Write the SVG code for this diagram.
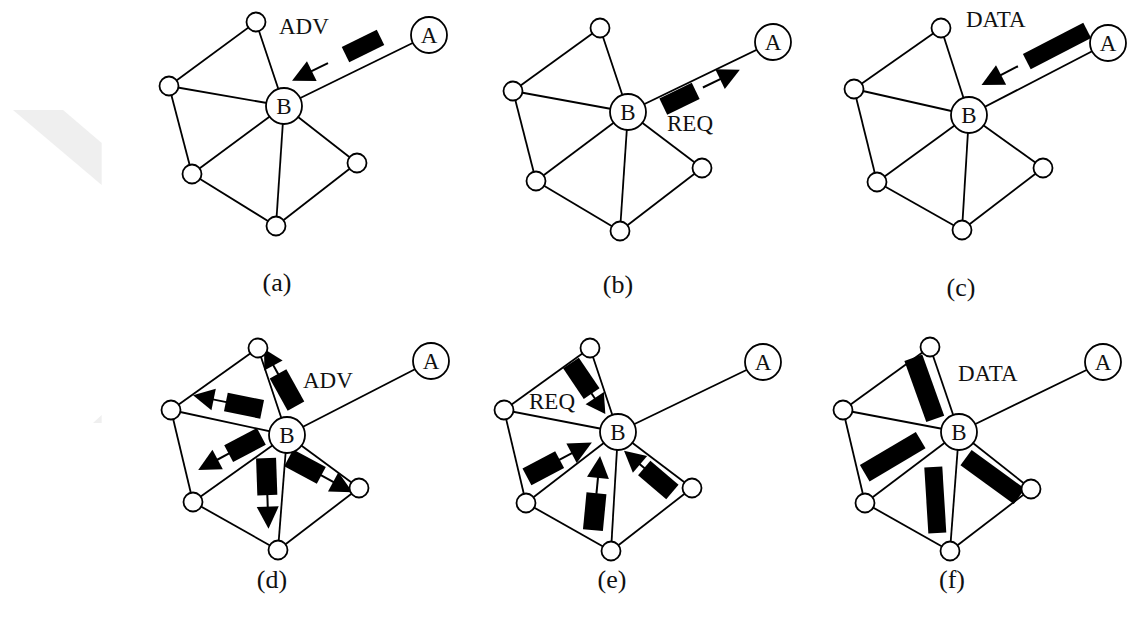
<svg xmlns="http://www.w3.org/2000/svg" width="1132" height="621" viewBox="0 0 1132 621">
<style>
.e{stroke:#000;stroke-width:1.8;fill:none}
.n{fill:#fff;stroke:#000;stroke-width:1.8}
.t{font-family:"Liberation Serif","Times New Roman",serif;font-size:23px;fill:#111}
.lb{font-family:"Liberation Serif","Times New Roman",serif;font-size:26px;fill:#111;text-anchor:middle}
.nt{font-family:"Liberation Serif","Times New Roman",serif;font-size:23px;fill:#111;text-anchor:middle}
.pk{fill:#000}
.sh{stroke:#000;stroke-width:2}
</style>
<rect width="1132" height="621" fill="#fff"/>
<g id="watermark" fill="#efefef">
<polygon points="13,110 63,110 101.7,143 101.7,185"/>
<polygon points="93,423 101.7,415 101.7,423"/>
</g>

<!-- Panel a -->
<g id="panel-a">
<g id="a-edges" class="e">
<line x1="256" y1="22" x2="169" y2="86"/>
<line x1="256" y1="22" x2="284" y2="106"/>
<line x1="169" y1="86" x2="284" y2="106"/>
<line x1="169" y1="86" x2="192" y2="174"/>
<line x1="284" y1="106" x2="192" y2="174"/>
<line x1="284" y1="106" x2="276" y2="226"/>
<line x1="284" y1="106" x2="357" y2="163"/>
<line x1="192" y1="174" x2="276" y2="226"/>
<line x1="276" y1="226" x2="357" y2="163"/>
<line x1="284" y1="106" x2="429" y2="35"/>
</g>
<g id="a-packet" transform="translate(363,46) rotate(153.9)">
<rect class="pk" x="-19.5" y="-8.5" width="39" height="17"/>
<line class="sh" x1="39" y1="0" x2="59" y2="0"/>
<polygon class="pk" points="57,-11 79,0 57,11"/>
</g>
<g id="a-nodes">
<circle class="n" cx="256" cy="22" r="9.5"/>
<circle class="n" cx="169" cy="86" r="9.5"/>
<circle class="n" cx="357" cy="163" r="9.5"/>
<circle class="n" cx="192" cy="174" r="9.5"/>
<circle class="n" cx="276" cy="226" r="9.5"/>
<g id="a-B"><circle class="n" cx="284" cy="106" r="18"/><text class="nt" x="284" y="114">B</text></g>
<g id="a-A"><circle class="n" cx="429" cy="35" r="18"/><text class="nt" x="429" y="43">A</text></g>
</g>
<text class="t" x="279" y="34">ADV</text>
<text class="lb" x="277" y="291">(a)</text>
</g>

<!-- Panel b -->
<g id="panel-b">
<g id="b-edges" class="e">
<line x1="600" y1="28" x2="513" y2="91"/>
<line x1="600" y1="28" x2="628" y2="112"/>
<line x1="513" y1="91" x2="628" y2="112"/>
<line x1="513" y1="91" x2="536" y2="181"/>
<line x1="628" y1="112" x2="536" y2="181"/>
<line x1="628" y1="112" x2="620" y2="231"/>
<line x1="628" y1="112" x2="702" y2="168"/>
<line x1="536" y1="181" x2="620" y2="231"/>
<line x1="620" y1="231" x2="702" y2="168"/>
<line x1="628" y1="112" x2="773" y2="42"/>
</g>
<g id="b-packet" transform="translate(679.5,98.8) rotate(-25.8)">
<rect class="pk" x="-18" y="-9" width="36" height="18"/>
<line class="sh" x1="26" y1="0" x2="47" y2="0"/>
<polygon class="pk" points="45,-11 67,0 45,11"/>
</g>
<g id="b-nodes">
<circle class="n" cx="600" cy="28" r="9.5"/>
<circle class="n" cx="513" cy="91" r="9.5"/>
<circle class="n" cx="702" cy="168" r="9.5"/>
<circle class="n" cx="536" cy="181" r="9.5"/>
<circle class="n" cx="620" cy="231" r="9.5"/>
<g id="b-B"><circle class="n" cx="628" cy="112" r="18"/><text class="nt" x="628" y="120">B</text></g>
<g id="b-A"><circle class="n" cx="773" cy="42" r="18"/><text class="nt" x="773" y="50">A</text></g>
</g>
<text class="t" x="667" y="131">REQ</text>
<text class="lb" x="618" y="293">(b)</text>
</g>

<!-- Panel c -->
<g id="panel-c">
<g id="c-edges" class="e">
<line x1="941" y1="28" x2="854" y2="89"/>
<line x1="941" y1="28" x2="969" y2="115"/>
<line x1="854" y1="89" x2="969" y2="115"/>
<line x1="854" y1="89" x2="877" y2="182"/>
<line x1="969" y1="115" x2="877" y2="182"/>
<line x1="969" y1="115" x2="962" y2="230"/>
<line x1="969" y1="115" x2="1043" y2="168"/>
<line x1="877" y1="182" x2="962" y2="230"/>
<line x1="962" y1="230" x2="1043" y2="168"/>
<line x1="969" y1="115" x2="1108" y2="43"/>
</g>
<g id="c-packet" transform="translate(1057,46) rotate(152.6)">
<rect class="pk" x="-34" y="-8.5" width="68" height="17"/>
<line class="sh" x1="44" y1="0" x2="65" y2="0"/>
<polygon class="pk" points="63,-11 85,0 63,11"/>
</g>
<g id="c-nodes">
<circle class="n" cx="941" cy="28" r="9.5"/>
<circle class="n" cx="854" cy="89" r="9.5"/>
<circle class="n" cx="1043" cy="168" r="9.5"/>
<circle class="n" cx="877" cy="182" r="9.5"/>
<circle class="n" cx="962" cy="230" r="9.5"/>
<g id="c-B"><circle class="n" cx="969" cy="115" r="18"/><text class="nt" x="969" y="123">B</text></g>
<g id="c-A"><circle class="n" cx="1108" cy="43" r="18"/><text class="nt" x="1108" y="51">A</text></g>
</g>
<text class="t" x="966" y="27">DATA</text>
<text class="lb" x="961" y="296">(c)</text>
</g>

<!-- Panel d -->
<g id="panel-d">
<g id="d-edges" class="e">
<line x1="258" y1="348" x2="171" y2="410"/>
<line x1="258" y1="348" x2="287" y2="435"/>
<line x1="171" y1="410" x2="287" y2="435"/>
<line x1="171" y1="410" x2="193" y2="502"/>
<line x1="287" y1="435" x2="193" y2="502"/>
<line x1="287" y1="435" x2="278" y2="550"/>
<line x1="287" y1="435" x2="359" y2="488"/>
<line x1="193" y1="502" x2="278" y2="550"/>
<line x1="278" y1="550" x2="359" y2="488"/>
<line x1="287" y1="435" x2="431" y2="361"/>
</g>
<g id="d-packets">
<g transform="translate(287,390) rotate(-119)">
<rect class="pk" x="-18.5" y="-9.5" width="37" height="19"/>
<line class="sh" x1="18" y1="0" x2="29" y2="0"/>
<polygon class="pk" points="28,-10.5 47,0 28,10.5"/>
</g>
<g transform="translate(244,405.7) rotate(191.5)">
<rect class="pk" x="-18.5" y="-9.5" width="37" height="19"/>
<line class="sh" x1="18" y1="0" x2="33" y2="0"/>
<polygon class="pk" points="31,-11 52,0 31,11"/>
</g>
<g transform="translate(245,445) rotate(152)">
<rect class="pk" x="-18.5" y="-9.5" width="37" height="19"/>
<line class="sh" x1="18" y1="0" x2="33" y2="0"/>
<polygon class="pk" points="31,-11 53,0 31,11"/>
</g>
<g transform="translate(266.7,476.7) rotate(88)">
<rect class="pk" x="-18.5" y="-10" width="37" height="20"/>
<line class="sh" x1="18" y1="0" x2="32" y2="0"/>
<polygon class="pk" points="30,-11 52,0 30,11"/>
</g>
<g transform="translate(305,466.7) rotate(28.2)">
<rect class="pk" x="-18.5" y="-9.5" width="37" height="19"/>
<line class="sh" x1="18" y1="0" x2="34" y2="0"/>
<polygon class="pk" points="32,-11 54,0 32,11"/>
</g>
</g>
<g id="d-nodes">
<circle class="n" cx="258" cy="348" r="9.5"/>
<circle class="n" cx="171" cy="410" r="9.5"/>
<circle class="n" cx="359" cy="488" r="9.5"/>
<circle class="n" cx="193" cy="502" r="9.5"/>
<circle class="n" cx="278" cy="550" r="9.5"/>
<g id="d-B"><circle class="n" cx="287" cy="435" r="18"/><text class="nt" x="287" y="443">B</text></g>
<g id="d-A"><circle class="n" cx="431" cy="361" r="18"/><text class="nt" x="431" y="369">A</text></g>
</g>
<text class="t" x="303" y="388">ADV</text>
<text class="lb" x="272" y="588">(d)</text>
</g>

<!-- Panel e -->
<g id="panel-e">
<g id="e-edges" class="e">
<line x1="590" y1="348" x2="504" y2="410"/>
<line x1="590" y1="348" x2="618" y2="432"/>
<line x1="504" y1="410" x2="618" y2="432"/>
<line x1="504" y1="410" x2="526" y2="503"/>
<line x1="618" y1="432" x2="526" y2="503"/>
<line x1="618" y1="432" x2="611" y2="551"/>
<line x1="618" y1="432" x2="692" y2="488"/>
<line x1="526" y1="503" x2="611" y2="551"/>
<line x1="611" y1="551" x2="692" y2="488"/>
<line x1="618" y1="432" x2="763" y2="362"/>
</g>
<g id="e-packets">
<g transform="translate(581.3,378.3) rotate(56)">
<rect class="pk" x="-18.5" y="-9.5" width="37" height="19"/>
<line class="sh" x1="18" y1="0" x2="25" y2="0"/>
<polygon class="pk" points="24,-11 43,0 24,11"/>
</g>
<g transform="translate(543.3,468.3) rotate(-28)">
<rect class="pk" x="-18.5" y="-9.5" width="37" height="19"/>
<line class="sh" x1="18" y1="0" x2="33" y2="0"/>
<polygon class="pk" points="32,-11 55,0 32,11"/>
</g>
<g transform="translate(594.7,511.7) rotate(-84.5)">
<rect class="pk" x="-18.5" y="-10" width="37" height="20"/>
<line class="sh" x1="18" y1="0" x2="36" y2="0"/>
<polygon class="pk" points="34,-11 56,0 34,11"/>
</g>
<g transform="translate(658.3,480) rotate(220.4)">
<rect class="pk" x="-18.5" y="-9.5" width="37" height="19"/>
<line class="sh" x1="18" y1="0" x2="25" y2="0"/>
<polygon class="pk" points="24,-11 45,0 24,11"/>
</g>
</g>
<g id="e-nodes">
<circle class="n" cx="590" cy="348" r="9.5"/>
<circle class="n" cx="504" cy="410" r="9.5"/>
<circle class="n" cx="692" cy="488" r="9.5"/>
<circle class="n" cx="526" cy="503" r="9.5"/>
<circle class="n" cx="611" cy="551" r="9.5"/>
<g id="e-B"><circle class="n" cx="618" cy="432" r="18"/><text class="nt" x="618" y="440">B</text></g>
<g id="e-A"><circle class="n" cx="763" cy="362" r="18"/><text class="nt" x="763" y="370">A</text></g>
</g>
<text class="t" x="529" y="409">REQ</text>
<text class="lb" x="612" y="588">(e)</text>
</g>

<!-- Panel f -->
<g id="panel-f">
<g id="f-edges" class="e">
<line x1="930" y1="347" x2="843" y2="410"/>
<line x1="930" y1="347" x2="959" y2="432"/>
<line x1="843" y1="410" x2="959" y2="432"/>
<line x1="843" y1="410" x2="865" y2="503"/>
<line x1="959" y1="432" x2="865" y2="503"/>
<line x1="959" y1="432" x2="950" y2="551"/>
<line x1="959" y1="432" x2="1031" y2="489"/>
<line x1="865" y1="503" x2="950" y2="551"/>
<line x1="950" y1="551" x2="1031" y2="489"/>
<line x1="959" y1="432" x2="1103" y2="362"/>
</g>
<g id="f-packets" class="pk">
<rect x="-32.5" y="-9.5" width="65" height="19" transform="translate(924.3,388.3) rotate(70.3)"/>
<rect x="-32.5" y="-9.5" width="65" height="19" transform="translate(892.7,456.7) rotate(-30.6)"/>
<rect x="-33" y="-9" width="66" height="18" transform="translate(935.3,500) rotate(86.5)"/>
<rect x="-33" y="-9.5" width="66" height="19" transform="translate(992.7,477) rotate(36.1)"/>
</g>
<g id="f-nodes">
<circle class="n" cx="930" cy="347" r="9.5"/>
<circle class="n" cx="843" cy="410" r="9.5"/>
<circle class="n" cx="1031" cy="489" r="9.5"/>
<circle class="n" cx="865" cy="503" r="9.5"/>
<circle class="n" cx="950" cy="551" r="9.5"/>
<g id="f-B"><circle class="n" cx="959" cy="432" r="18"/><text class="nt" x="959" y="440">B</text></g>
<g id="f-A"><circle class="n" cx="1103" cy="362" r="18"/><text class="nt" x="1103" y="370">A</text></g>
</g>
<text class="t" x="958" y="381">DATA</text>
<text class="lb" x="952" y="588">(f)</text>
</g>
</svg>
